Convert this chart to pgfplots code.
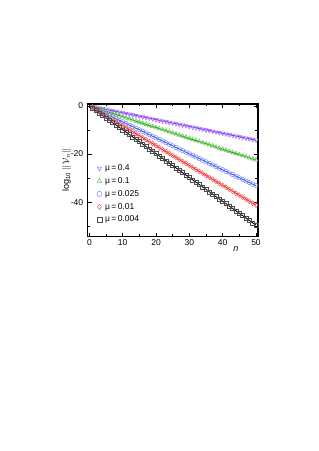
\documentclass[border=0pt]{standalone}
\usepackage{pgfplots}
\pgfplotsset{compat=1.18}
\usepackage{fontspec}
\setmainfont{Liberation Sans}
\definecolor{cpur}{RGB}{130,50,240}
\definecolor{cgrn}{RGB}{40,170,20}
\definecolor{cblu}{RGB}{50,80,245}
\definecolor{cred}{RGB}{240,30,30}
\definecolor{cblk}{RGB}{0,0,0}
\begin{document}
\begin{tikzpicture}
\begin{axis}[
  at={(0pt,0pt)}, anchor=south west,
  scale only axis, width=170.3pt, height=132.7pt,
  xmin=-0.5, xmax=50.6, ymin=-54.4, ymax=0.8,
  xtick={0,10,20,30,40,50}, minor xtick={5,15,25,35,45},
  ytick={0,-20,-40}, minor ytick={-10,-30,-50},
  tick align=inside, x tick style={black, line width=0.7pt},
  y tick style={black, line width=0.7pt},
  major tick length=4pt, minor tick length=2.5pt,
  axis line style={line width=1.1pt},
  ticklabel style={font=\fontsize{8.5}{9}\selectfont},
  /pgf/number format/assume math mode=true,
  x tick label style={yshift=1pt},
  y tick label style={xshift=-1pt},
  xlabel={\textit{n}}, xlabel style={font=\fontsize{9}{9}\selectfont, at={(axis description cs:0.87,0)}, anchor=north, yshift=-6pt},
  ylabel={log\textsubscript{10} $\|\,\mathcal{V}_n\|$}, ylabel style={font=\fontsize{9}{10}\selectfont, at={(axis description cs:0,0.5)}, anchor=south, yshift=13pt},
  legend style={draw=none, fill=none, at={(axis description cs:0.035,0.575)}, anchor=north west, font=\fontsize{8.5}{9}\selectfont, row sep=1.4pt, legend cell align=left, nodes={inner xsep=3pt}},
  legend image code/.code={\draw[#1, mark size=2.6pt] plot coordinates {(0.1cm,0cm)};},
  clip=false,
]
% markers
\addplot[only marks, mark=triangle, mark options={rotate=180, draw=cpur!75, line width=0.5pt}, mark size=2.4pt] coordinates {
(1,-0.29)(2,-0.57)(3,-0.86)(4,-1.14)(5,-1.43)(6,-1.71)(7,-2.00)(8,-2.28)(9,-2.57)(10,-2.85)
(11,-3.14)(12,-3.42)(13,-3.71)(14,-3.99)(15,-4.28)(16,-4.56)(17,-4.85)(18,-5.13)(19,-5.42)(20,-5.70)
(21,-5.99)(22,-6.27)(23,-6.56)(24,-6.84)(25,-7.13)(26,-7.41)(27,-7.70)(28,-7.98)(29,-8.27)(30,-8.55)
(31,-8.84)(32,-9.12)(33,-9.41)(34,-9.69)(35,-9.98)(36,-10.26)(37,-10.55)(38,-10.83)(39,-11.12)(40,-11.40)
(41,-11.69)(42,-11.97)(43,-12.26)(44,-12.54)(45,-12.83)(46,-13.11)(47,-13.40)(48,-13.68)(49,-13.97)(50,-14.25)};
\addlegendentry{μ\,=\,0.4}
\addplot[only marks, mark=triangle, mark options={draw=cgrn!75, line width=0.5pt}, mark size=2.4pt] coordinates {
(1,-0.45)(2,-0.90)(3,-1.35)(4,-1.80)(5,-2.25)(6,-2.70)(7,-3.15)(8,-3.60)(9,-4.05)(10,-4.50)
(11,-4.95)(12,-5.40)(13,-5.85)(14,-6.30)(15,-6.75)(16,-7.20)(17,-7.65)(18,-8.10)(19,-8.55)(20,-9.00)
(21,-9.45)(22,-9.90)(23,-10.35)(24,-10.80)(25,-11.25)(26,-11.70)(27,-12.15)(28,-12.60)(29,-13.05)(30,-13.50)
(31,-13.95)(32,-14.40)(33,-14.85)(34,-15.30)(35,-15.75)(36,-16.20)(37,-16.65)(38,-17.10)(39,-17.55)(40,-18.00)
(41,-18.45)(42,-18.90)(43,-19.35)(44,-19.80)(45,-20.25)(46,-20.70)(47,-21.15)(48,-21.60)(49,-22.05)(50,-22.50)};
\addlegendentry{μ\,=\,0.1}
\addplot[only marks, mark=o, mark options={draw=cblu!70, line width=0.5pt}, mark size=2.2pt] coordinates {
(1,-0.66)(2,-1.33)(3,-1.99)(4,-2.66)(5,-3.32)(6,-3.98)(7,-4.65)(8,-5.31)(9,-5.98)(10,-6.64)
(11,-7.30)(12,-7.97)(13,-8.63)(14,-9.30)(15,-9.96)(16,-10.62)(17,-11.29)(18,-11.95)(19,-12.62)(20,-13.28)
(21,-13.94)(22,-14.61)(23,-15.27)(24,-15.94)(25,-16.60)(26,-17.26)(27,-17.93)(28,-18.59)(29,-19.26)(30,-19.92)
(31,-20.58)(32,-21.25)(33,-21.91)(34,-22.58)(35,-23.24)(36,-23.90)(37,-24.57)(38,-25.23)(39,-25.90)(40,-26.56)
(41,-27.22)(42,-27.89)(43,-28.55)(44,-29.22)(45,-29.88)(46,-30.54)(47,-31.21)(48,-31.87)(49,-32.54)(50,-33.20)};
\addlegendentry{μ\,=\,0.025}
\addplot[only marks, mark=diamond, mark options={draw=cred!75, line width=0.5pt}, mark size=2.5pt] coordinates {
(1,-0.83)(2,-1.65)(3,-2.48)(4,-3.30)(5,-4.13)(6,-4.96)(7,-5.78)(8,-6.61)(9,-7.43)(10,-8.26)
(11,-9.09)(12,-9.91)(13,-10.74)(14,-11.56)(15,-12.39)(16,-13.22)(17,-14.04)(18,-14.87)(19,-15.69)(20,-16.52)
(21,-17.35)(22,-18.17)(23,-19.00)(24,-19.82)(25,-20.65)(26,-21.48)(27,-22.30)(28,-23.13)(29,-23.95)(30,-24.78)
(31,-25.61)(32,-26.43)(33,-27.26)(34,-28.08)(35,-28.91)(36,-29.74)(37,-30.56)(38,-31.39)(39,-32.21)(40,-33.04)
(41,-33.87)(42,-34.69)(43,-35.52)(44,-36.34)(45,-37.17)(46,-38.00)(47,-38.82)(48,-39.65)(49,-40.47)(50,-41.30)};
\addlegendentry{μ\,=\,0.01}
\addplot[only marks, mark=square, mark options={draw=black!70, line width=0.5pt}, mark size=2pt] coordinates {
(1,-0.99)(2,-1.98)(3,-2.98)(4,-3.97)(5,-4.96)(6,-5.95)(7,-6.94)(8,-7.94)(9,-8.93)(10,-9.92)
(11,-10.91)(12,-11.90)(13,-12.90)(14,-13.89)(15,-14.88)(16,-15.87)(17,-16.86)(18,-17.86)(19,-18.85)(20,-19.84)
(21,-20.83)(22,-21.82)(23,-22.82)(24,-23.81)(25,-24.80)(26,-25.79)(27,-26.78)(28,-27.78)(29,-28.77)(30,-29.76)
(31,-30.75)(32,-31.74)(33,-32.74)(34,-33.73)(35,-34.72)(36,-35.71)(37,-36.70)(38,-37.70)(39,-38.69)(40,-39.68)
(41,-40.67)(42,-41.66)(43,-42.66)(44,-43.65)(45,-44.64)(46,-45.63)(47,-46.62)(48,-47.62)(49,-48.61)(50,-49.60)};
\addlegendentry{μ\,=\,0.004}
% lines
\addplot[cpur, line width=0.9pt, forget plot] coordinates {(0,0)(50,-14.25)};
\addplot[cgrn, line width=0.9pt, forget plot] coordinates {(0,0)(50,-22.5)};
\addplot[cblu, line width=0.9pt, forget plot] coordinates {(0,0)(50,-33.2)};
\addplot[cred, line width=0.9pt, forget plot] coordinates {(0,0)(50,-41.3)};
\addplot[black, line width=0.9pt, forget plot] coordinates {(0,0)(50,-49.6)};
\end{axis}
\pgfresetboundingbox
\path (-87.7pt,-214.3pt) rectangle (231.3pt,236.7pt);
\end{tikzpicture}
\end{document}
